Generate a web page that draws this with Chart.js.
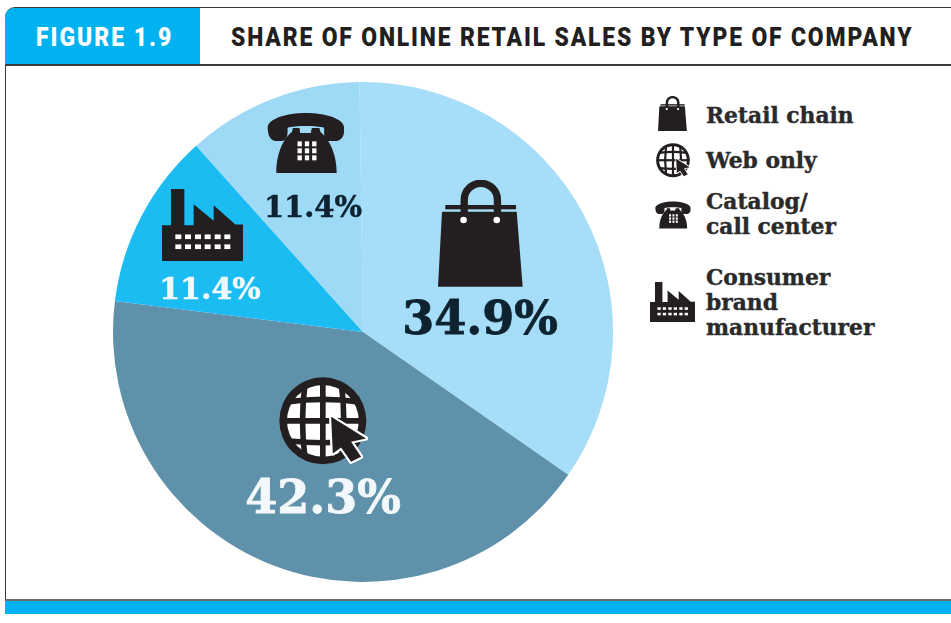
<!DOCTYPE html>
<html>
<head>
<meta charset="utf-8">
<title>Share of online retail sales by type of company</title>
<script src="https://cdn.jsdelivr.net/npm/chart.js@4"></script>
<style>
html, body { margin: 0; padding: 0; background: #fff; overflow: hidden; }
#page { position: relative; width: 951px; height: 623px; overflow: hidden; }
#frame { position: absolute; left: 5px; top: 7px; width: 960px; height: 593px; box-sizing: border-box;
    border: 1px solid #3a3a3a; border-width: 1.5px 0 0 1.5px; border-top-left-radius: 10px; }
#head { position: absolute; left: 5px; top: 8px; width: 195px; height: 57px; background: #00b2f0; border-top-left-radius: 9px; }
#rule { position: absolute; left: 5px; top: 64px; width: 946px; height: 2px; background: #3a3a3a; }
#band { position: absolute; left: 5px; top: 601px; width: 946px; height: 13px; background: #00b2f0; }
#bandline { position: absolute; left: 5px; top: 599px; width: 946px; height: 2px; background: #6b6b6b; }
.hd { position: absolute; top: 22px; font: 900 26px/30px "Roboto", sans-serif; white-space: nowrap; transform: scaleX(0.88); transform-origin: left center; }
#fig { left: 36px; color: #fff; letter-spacing: 2.3px; }
#title { left: 231px; color: #231f20; letter-spacing: 2.1px; }
#chartBox { position: absolute; left: 113px; top: 82px; width: 500px; height: 500px; }
.icon { position: absolute; }
.lg { position: absolute; left: 706px; font: bold 21.8px/25px "DejaVu Serif", serif; color: #2b2a2a; white-space: pre-line; -webkit-text-stroke: 0.4px #2b2a2a; }
</style>
</head>
<body>
<svg width="0" height="0" style="position:absolute">
  <symbol id="bag" viewBox="143 30 256 321" preserveAspectRatio="none">
    <path d="M155,125 H380 L398,350 H143 Z" fill="#231f20"/>
    <rect x="165" y="105" width="213" height="13" fill="#231f20"/>
    <path d="M222,135 V90 a50,50 0 0 1 100,0 V135" fill="none" stroke="#231f20" stroke-width="22"/>
    <circle cx="220" cy="150" r="10" fill="#fff"/>
    <circle cx="320" cy="150" r="10" fill="#fff"/>
  </symbol>
  <symbol id="globe" viewBox="148 20 280 268" preserveAspectRatio="none">
    <circle cx="280" cy="152" r="131" fill="#231f20"/>
    <circle cx="280" cy="152" r="108" fill="#fff"/>
    <g fill="none" stroke="#231f20" stroke-width="17">
      <path d="M226,42 Q212,152 226,262"/>
      <path d="M280,30 V274"/>
      <path d="M336,42 Q350,152 336,262"/>
      <path d="M172,95 Q280,80 388,95"/>
      <path d="M160,152 H400"/>
      <path d="M172,212 Q280,224 388,212"/>
    </g>
    <path d="M305,140 L410,205 L365,215 L395,260 L365,275 L335,232 L310,250 Z" fill="#231f20" stroke="#fff" stroke-width="13" stroke-linejoin="round" paint-order="stroke"/>
  </symbol>
  <symbol id="phone" viewBox="380 65 235 186" preserveAspectRatio="none">
    <path d="M382,110 C385,85 440,68 497,68 C555,68 610,85 612,110 L612,125 C612,135 605,150 590,152 L565,152 C555,150 552,140 552,125 L552,112 C530,105 465,105 442,112 L442,125 C442,142 435,152 425,152 L405,152 C390,150 382,135 382,110 Z" fill="#231f20"/>
    <path d="M455,125 L458,113 L478,113 L480,128 L512,128 L515,113 L538,113 L541,125 C560,140 590,180 590,248 L408,248 C408,180 435,140 455,125 Z" fill="#231f20"/>
    <g fill="#fff">
      <rect x="472" y="153" width="13" height="15"/><rect x="494" y="153" width="13" height="15"/><rect x="516" y="153" width="13" height="15"/>
      <rect x="472" y="174" width="13" height="15"/><rect x="494" y="174" width="13" height="15"/><rect x="516" y="174" width="13" height="15"/>
      <rect x="472" y="195" width="13" height="15"/><rect x="494" y="195" width="13" height="15"/><rect x="516" y="195" width="13" height="15"/>
    </g>
  </symbol>
  <symbol id="factory" viewBox="65 296 243 217" preserveAspectRatio="none">
    <path d="M65,405 H92 V296 H132 V405 H160 V342 L220,392 V345 L285,403 H308 V513 H65 Z" fill="#231f20"/>
    <g fill="#fff">
      <rect x="105" y="433" width="18" height="14"/><rect x="134" y="433" width="18" height="14"/><rect x="164" y="433" width="18" height="14"/><rect x="193" y="433" width="18" height="14"/><rect x="223" y="433" width="18" height="14"/><rect x="252" y="433" width="18" height="14"/>
      <rect x="105" y="463" width="18" height="14"/><rect x="134" y="463" width="18" height="14"/><rect x="164" y="463" width="18" height="14"/><rect x="193" y="463" width="18" height="14"/><rect x="223" y="463" width="18" height="14"/><rect x="252" y="463" width="18" height="14"/>
    </g>
  </symbol>
</svg>

<div id="page">
  <div id="frame"></div>
  <div id="head"></div>
  <div id="rule"></div>
  <div id="bandline"></div>
  <div id="band"></div>
  <div class="hd" id="fig">FIGURE 1.9</div>
  <div class="hd" id="title">SHARE OF ONLINE RETAIL SALES BY TYPE OF COMPANY</div>

  <div id="chartBox"><canvas id="pie" width="500" height="500"></canvas></div>

  <!-- icons on the slices -->
  <svg class="icon" style="left:438px;top:180px" width="85" height="107"><use href="#bag"/></svg>
  <svg class="icon" style="left:279px;top:377px" width="93" height="89"><use href="#globe"/></svg>
  <svg class="icon" style="left:267px;top:112px" width="78" height="62"><use href="#phone"/></svg>
  <svg class="icon" style="left:162px;top:189px" width="81" height="72"><use href="#factory"/></svg>

  <!-- legend -->
  <svg class="icon" style="left:658px;top:96px" width="29" height="35"><use href="#bag"/></svg>
  <svg class="icon" style="left:656px;top:143px" width="36" height="35"><use href="#globe"/></svg>
  <svg class="icon" style="left:655px;top:201px" width="36" height="28"><use href="#phone"/></svg>
  <svg class="icon" style="left:650px;top:282px" width="45" height="40"><use href="#factory"/></svg>
  <div class="lg" id="lg0" style="top:103px"></div>
  <div class="lg" id="lg1" style="top:148px"></div>
  <div class="lg" id="lg3" style="top:189px"></div>
  <div class="lg" id="lg2" style="top:265px"></div>
</div>

<script>
var categories = ["Retail chain", "Web only", "Consumer\nbrand\nmanufacturer", "Catalog/\ncall center"];
var shares = [34.9, 42.3, 11.4, 11.4];
var sliceColors = ["#a6ddf9", "#5f92aa", "#1bbcf1", "#9edaf6"];
var labelColors = ["#0e2230", "#f2f8fb", "#f0f8fc", "#0e2230"];

document.addEventListener('DOMContentLoaded', function () {
    categories.forEach(function (name, i) {
        document.getElementById("lg" + i).textContent = name;
    });
    makePie();
});

// percent labels, centred by hand on each slice
var labelSpots = [
    { x: 367, y: 240, font: "bold 46px 'DejaVu Serif', serif", stroke: 0.8 },
    { x: 210, y: 419, font: "bold 46px 'DejaVu Serif', serif", stroke: 0.8 },
    { x: 97, y: 209, font: "bold 30px 'DejaVu Serif', serif", stroke: 0.5 },
    { x: 200, y: 127, font: "bold 29px 'DejaVu Serif', serif", stroke: 0.5 }
];

var percentLabels = {
    id: 'percentLabels',
    afterDraw: function (chart) {
        var ctx = chart.ctx;
        ctx.save();
        ctx.textAlign = "center";
        ctx.textBaseline = "middle";
        shares.forEach(function (v, i) {
            var text = v.toFixed(1) + "%";
            ctx.font = labelSpots[i].font;
            ctx.fillStyle = labelColors[i];
            ctx.strokeStyle = labelColors[i];
            ctx.lineWidth = labelSpots[i].stroke;
            ctx.fillText(text, labelSpots[i].x, labelSpots[i].y);
            ctx.strokeText(text, labelSpots[i].x, labelSpots[i].y);
        });
        ctx.restore();
    }
};

function makePie() {
    new Chart(document.getElementById("pie"), {
        type: 'pie',
        data: {
            labels: categories,
            datasets: [{
                data: shares,
                backgroundColor: sliceColors,
                borderWidth: 0
            }]
        },
        options: {
            responsive: false,
            animation: false,
            rotation: -0.8,
            layout: { padding: 0 },
            plugins: { legend: { display: false }, tooltip: { enabled: false } }
        },
        plugins: [percentLabels]
    });
}
</script>
</body>
</html>
